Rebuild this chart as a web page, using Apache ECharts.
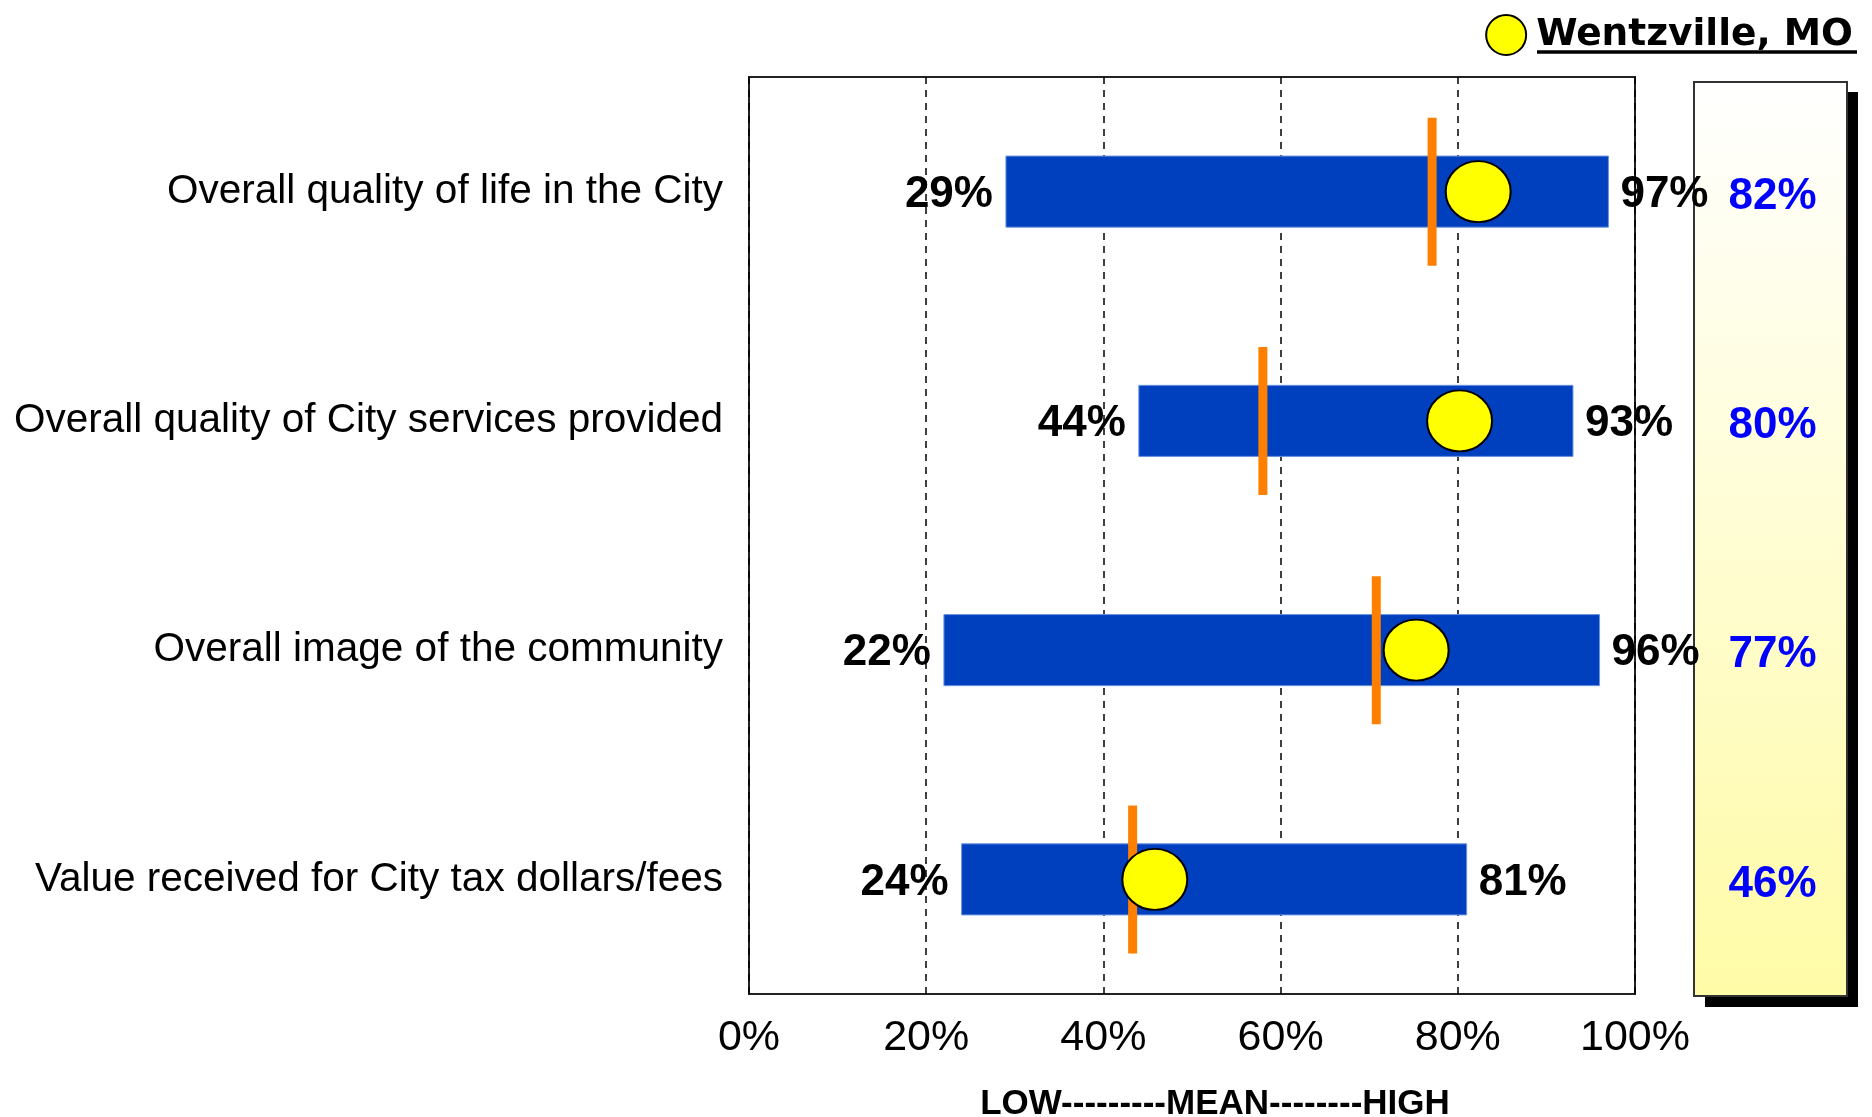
<!DOCTYPE html>
<html>
<head>
<meta charset="utf-8">
<script src="https://cdn.jsdelivr.net/npm/echarts@6/dist/echarts.min.js"></script>
<style>
html,body{margin:0;padding:0;background:#fff;}
#c{width:1872px;height:1117px;}
</style>
</head>
<body>
<div id="c"></div>
<script>
// ---- data ----
const categories = [
  'Overall quality of life in the City',
  'Overall quality of City services provided',
  'Overall image of the community',
  'Value received for City tax dollars/fees'
];
const lowValues  = [29, 44, 22, 24];
const highValues = [97, 93, 96, 81];
const meanValues = [77.1, 58, 70.8, 43.3];
const cityMarker = [82.3, 80.2, 75.3, 45.8];
const cityLabels = ['82%', '80%', '77%', '46%'];
const xTicks = [0, 20, 40, 60, 80, 100];
const cityName = 'Wentzville, MO';
const axisTitle = 'LOW---------MEAN--------HIGH';

// ---- chart ----
const chart = echarts.init(document.getElementById('c'), null, {renderer: 'canvas'});
const SANS = "'Liberation Sans', Arial, sans-serif";

const option = {
  animation: false,
  backgroundColor: '#ffffff',
  legend: {
    data: [cityName],
    right: 14,
    top: 9,
    itemWidth: 40,
    itemHeight: 43,
    icon: 'circle',
    textStyle: {fontFamily: "'DejaVu Sans', Verdana, sans-serif", fontWeight: 'bold', fontSize: 37.5, color: '#000', padding: [0, 0, 0, 5]}
  },
  graphic: [
    {type: 'rect', z: 0, shape: {x: 1705, y: 92, width: 153, height: 915}, style: {fill: '#000'}},
    {type: 'rect', z: 0, shape: {x: 1694, y: 82, width: 153, height: 914},
      style: {
        fill: {type: 'linear', x: 0, y: 0, x2: 0, y2: 1,
          colorStops: [{offset: 0, color: '#FFFFFF'}, {offset: 1, color: '#FFFBA6'}]},
        stroke: '#333', lineWidth: 2
      }},
    {type: 'line', z: 5, shape: {x1: 1537, y1: 52, x2: 1857, y2: 52}, style: {stroke: '#000', lineWidth: 3.5}}
  ],
  grid: [
    {left: 749, top: 77, width: 886, height: 917, show: true, borderColor: '#222', borderWidth: 2,
      backgroundColor: '#fff', containLabel: false, outerBoundsMode: 'none'},
    {left: 1694, top: 77, width: 153, height: 917, show: false, containLabel: false, outerBoundsMode: 'none'}
  ],
  xAxis: [
    {
      gridIndex: 0, type: 'value',
      min: xTicks[0], max: xTicks[xTicks.length - 1], interval: xTicks[1] - xTicks[0],
      axisLine: {show: false}, axisTick: {show: false},
      splitLine: {show: true, lineStyle: {color: '#000', type: [7, 6], width: 1.5}},
      axisLabel: {formatter: '{value}%', fontSize: 43, fontFamily: SANS, color: '#000', margin: 23},
      name: axisTitle, nameLocation: 'middle', nameGap: 93,
      nameTextStyle: {fontFamily: SANS, fontWeight: 'bold', fontSize: 35, color: '#000', padding: [0, 0, 0, 46]}
    },
    {gridIndex: 1, type: 'value', min: 0, max: 1, show: false}
  ],
  yAxis: [
    {
      gridIndex: 0, type: 'category', data: categories, inverse: true,
      axisLine: {show: false}, axisTick: {show: false}, splitLine: {show: false},
      axisLabel: {fontSize: 40.5, fontFamily: SANS, color: '#000', margin: 26, padding: [9, 0, 0, 0]}
    },
    {gridIndex: 1, type: 'category', data: categories, inverse: true, show: false}
  ],
  series: [
    {
      type: 'custom', name: 'range', xAxisIndex: 0, yAxisIndex: 0, z: 2,
      data: lowValues.map((l, i) => [l, highValues[i], i]),
      encode: {x: [0, 1], y: 2},
      renderItem: function (params, api) {
        const lo = api.value(0), hi = api.value(1), cat = api.value(2);
        const p0 = api.coord([lo, cat]);
        const p1 = api.coord([hi, cat]);
        const h = api.size([0, 1])[1] * 0.31;
        const ts = {fontSize: 44, fontWeight: 'bold', fontFamily: SANS, fill: '#000', verticalAlign: 'middle'};
        return {
          type: 'group',
          children: [
            {type: 'rect', shape: {x: p0[0], y: p0[1] - h / 2, width: p1[0] - p0[0], height: h},
              style: {fill: '#0040BF', stroke: '#6B93E0', lineWidth: 1}},
            {type: 'text', z2: 10, style: Object.assign({text: lo + '%', x: p0[0] - 13, y: p0[1] + 3, align: 'right'}, ts)},
            {type: 'text', z2: 10, style: Object.assign({text: hi + '%', x: p1[0] + 12, y: p0[1] + 3, align: 'left'}, ts)}
          ]
        };
      }
    },
    {
      type: 'scatter', name: 'mean', xAxisIndex: 0, yAxisIndex: 0, z: 3,
      symbol: 'rect', symbolSize: [9, 148],
      itemStyle: {color: '#FF8000', opacity: 1},
      data: meanValues.map((m, i) => [m, i])
    },
    {
      type: 'scatter', name: cityName, xAxisIndex: 0, yAxisIndex: 0, z: 4,
      symbol: 'circle', symbolSize: [65, 61],
      itemStyle: {color: '#FFFF00', borderColor: '#000', borderWidth: 2, opacity: 1},
      data: cityMarker.map((v, i) => [v, i])
    },
    {
      type: 'custom', name: 'cityValue', xAxisIndex: 1, yAxisIndex: 1, z: 6,
      data: cityLabels.map((t, i) => [0.5, i, t]),
      encode: {x: 0, y: 1},
      renderItem: function (params, api) {
        const p = api.coord([api.value(0), api.value(1)]);
        return {
          type: 'text',
          style: {text: cityLabels[params.dataIndex], x: p[0] + 2, y: p[1] + 5, align: 'center', verticalAlign: 'middle',
            fontSize: 44, fontWeight: 'bold', fontFamily: SANS, fill: '#0000FF'}
        };
      }
    }
  ]
};
chart.setOption(option);
</script>
</body>
</html>
